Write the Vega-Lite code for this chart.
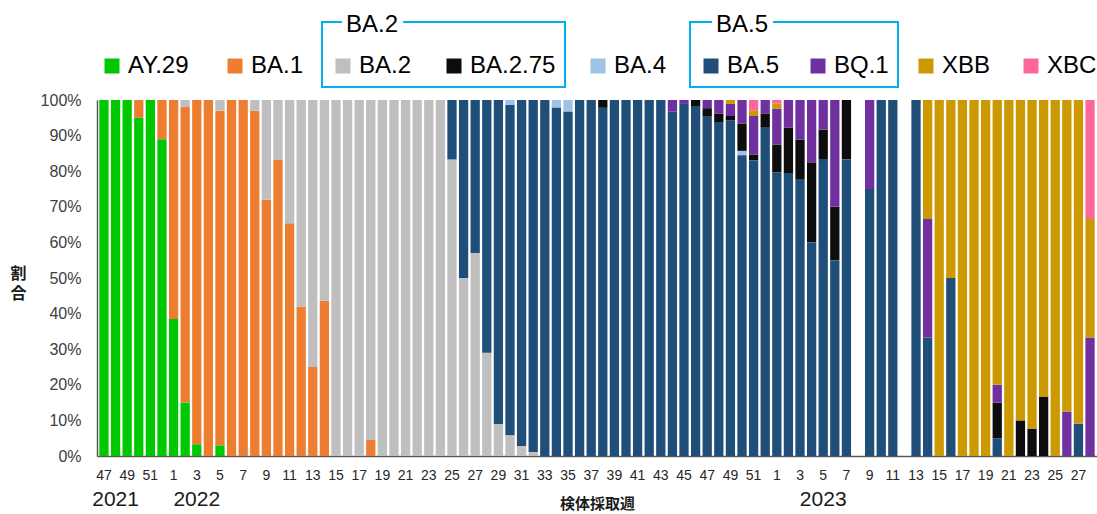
{
  "$schema": "https://vega.github.io/schema/vega-lite/v6.json",
  "width": 1000,
  "height": 356,
  "autosize": {"type": "none"},
  "padding": {"left": 97, "top": 100, "right": 0, "bottom": 58},
  "datasets": {
    "ranks": [
      {"v": "AY.29", "r": 1}, {"v": "BA.1", "r": 2}, {"v": "BA.2", "r": 3},
      {"v": "BA.5", "r": 4}, {"v": "BA.4", "r": 5}, {"v": "BA.2.75", "r": 6},
      {"v": "BQ.1", "r": 7}, {"v": "XBB", "r": 8}, {"v": "XBC", "r": 9}
    ],
    "share": [
      {"wk":"2021-47","v":"AY.29","p":100},
      {"wk":"2021-48","v":"AY.29","p":100},
      {"wk":"2021-49","v":"AY.29","p":100},
      {"wk":"2021-50","v":"AY.29","p":95},{"wk":"2021-50","v":"BA.1","p":5},
      {"wk":"2021-51","v":"AY.29","p":100},
      {"wk":"2021-52","v":"AY.29","p":89},{"wk":"2021-52","v":"BA.1","p":11},
      {"wk":"2022-01","v":"AY.29","p":38.5},{"wk":"2022-01","v":"BA.1","p":61.5},
      {"wk":"2022-02","v":"AY.29","p":15},{"wk":"2022-02","v":"BA.1","p":83},{"wk":"2022-02","v":"BA.2","p":2},
      {"wk":"2022-03","v":"AY.29","p":3.3},{"wk":"2022-03","v":"BA.1","p":96.7},
      {"wk":"2022-04","v":"BA.1","p":100},
      {"wk":"2022-05","v":"AY.29","p":3},{"wk":"2022-05","v":"BA.1","p":94},{"wk":"2022-05","v":"BA.2","p":3},
      {"wk":"2022-06","v":"BA.1","p":100},
      {"wk":"2022-07","v":"BA.1","p":100},
      {"wk":"2022-08","v":"BA.1","p":97},{"wk":"2022-08","v":"BA.2","p":3},
      {"wk":"2022-09","v":"BA.1","p":72},{"wk":"2022-09","v":"BA.2","p":28},
      {"wk":"2022-10","v":"BA.1","p":83.3},{"wk":"2022-10","v":"BA.2","p":16.7},
      {"wk":"2022-11","v":"BA.1","p":65.4},{"wk":"2022-11","v":"BA.2","p":34.6},
      {"wk":"2022-12","v":"BA.1","p":42},{"wk":"2022-12","v":"BA.2","p":58},
      {"wk":"2022-13","v":"BA.1","p":25},{"wk":"2022-13","v":"BA.2","p":75},
      {"wk":"2022-14","v":"BA.1","p":43.6},{"wk":"2022-14","v":"BA.2","p":56.4},
      {"wk":"2022-15","v":"BA.2","p":100},
      {"wk":"2022-16","v":"BA.2","p":100},
      {"wk":"2022-17","v":"BA.2","p":100},
      {"wk":"2022-18","v":"BA.1","p":4.5},{"wk":"2022-18","v":"BA.2","p":95.5},
      {"wk":"2022-19","v":"BA.2","p":100},
      {"wk":"2022-20","v":"BA.2","p":100},
      {"wk":"2022-21","v":"BA.2","p":100},
      {"wk":"2022-22","v":"BA.2","p":100},
      {"wk":"2022-23","v":"BA.2","p":100},
      {"wk":"2022-24","v":"BA.2","p":100},
      {"wk":"2022-25","v":"BA.2","p":83.3},{"wk":"2022-25","v":"BA.5","p":16.7},
      {"wk":"2022-26","v":"BA.2","p":50},{"wk":"2022-26","v":"BA.5","p":50},
      {"wk":"2022-27","v":"BA.2","p":57},{"wk":"2022-27","v":"BA.5","p":43},
      {"wk":"2022-28","v":"BA.2","p":29},{"wk":"2022-28","v":"BA.5","p":71},
      {"wk":"2022-29","v":"BA.2","p":9},{"wk":"2022-29","v":"BA.5","p":91},
      {"wk":"2022-30","v":"BA.2","p":5.8},{"wk":"2022-30","v":"BA.5","p":92.8},{"wk":"2022-30","v":"BA.4","p":1.4},
      {"wk":"2022-31","v":"BA.2","p":2.8},{"wk":"2022-31","v":"BA.5","p":97.2},
      {"wk":"2022-32","v":"BA.2","p":1.1},{"wk":"2022-32","v":"BA.5","p":98.9},
      {"wk":"2022-33","v":"BA.5","p":100},
      {"wk":"2022-34","v":"BA.5","p":97.8},{"wk":"2022-34","v":"BA.4","p":2.2},
      {"wk":"2022-35","v":"BA.5","p":96.7},{"wk":"2022-35","v":"BA.4","p":3.3},
      {"wk":"2022-36","v":"BA.5","p":100},
      {"wk":"2022-37","v":"BA.5","p":100},
      {"wk":"2022-38","v":"BA.5","p":97.8},{"wk":"2022-38","v":"BA.2.75","p":2.2},
      {"wk":"2022-39","v":"BA.5","p":100},
      {"wk":"2022-40","v":"BA.5","p":100},
      {"wk":"2022-41","v":"BA.5","p":100},
      {"wk":"2022-42","v":"BA.5","p":100},
      {"wk":"2022-43","v":"BA.5","p":100},
      {"wk":"2022-44","v":"BA.5","p":96.7},{"wk":"2022-44","v":"BQ.1","p":3.3},
      {"wk":"2022-45","v":"BA.5","p":98.9},{"wk":"2022-45","v":"BQ.1","p":1.1},
      {"wk":"2022-46","v":"BA.5","p":98.1},{"wk":"2022-46","v":"BA.2.75","p":1.9},
      {"wk":"2022-47","v":"BA.5","p":95.3},{"wk":"2022-47","v":"BA.2.75","p":2.4},{"wk":"2022-47","v":"BQ.1","p":2.3},
      {"wk":"2022-48","v":"BA.5","p":93.8},{"wk":"2022-48","v":"BA.2.75","p":2.4},{"wk":"2022-48","v":"BQ.1","p":3.8},
      {"wk":"2022-49","v":"BA.5","p":94.2},{"wk":"2022-49","v":"BA.2.75","p":1.3},{"wk":"2022-49","v":"BQ.1","p":3.4},{"wk":"2022-49","v":"XBB","p":1.1},
      {"wk":"2022-50","v":"BA.5","p":84.5},{"wk":"2022-50","v":"BA.4","p":1.2},{"wk":"2022-50","v":"BA.2.75","p":7.7},{"wk":"2022-50","v":"BQ.1","p":6.6},
      {"wk":"2022-51","v":"BA.5","p":83.1},{"wk":"2022-51","v":"BA.2.75","p":1.6},{"wk":"2022-51","v":"BQ.1","p":10.8},{"wk":"2022-51","v":"XBB","p":1.5},{"wk":"2022-51","v":"XBC","p":3},
      {"wk":"2022-52","v":"BA.5","p":92.2},{"wk":"2022-52","v":"BA.2.75","p":3.9},{"wk":"2022-52","v":"BQ.1","p":3.9},
      {"wk":"2023-01","v":"BA.5","p":79.7},{"wk":"2023-01","v":"BA.2.75","p":7.8},{"wk":"2023-01","v":"BQ.1","p":10.1},{"wk":"2023-01","v":"XBB","p":1.4},{"wk":"2023-01","v":"XBC","p":1},
      {"wk":"2023-02","v":"BA.5","p":79.5},{"wk":"2023-02","v":"BA.2.75","p":12.7},{"wk":"2023-02","v":"BQ.1","p":7.8},
      {"wk":"2023-03","v":"BA.5","p":77.8},{"wk":"2023-03","v":"BA.2.75","p":11.1},{"wk":"2023-03","v":"BQ.1","p":11.1},
      {"wk":"2023-04","v":"BA.5","p":60},{"wk":"2023-04","v":"BA.2.75","p":22.5},{"wk":"2023-04","v":"BQ.1","p":17.5},
      {"wk":"2023-05","v":"BA.5","p":83.4},{"wk":"2023-05","v":"BA.2.75","p":8.3},{"wk":"2023-05","v":"BQ.1","p":8.3},
      {"wk":"2023-06","v":"BA.5","p":55},{"wk":"2023-06","v":"BA.2.75","p":15},{"wk":"2023-06","v":"BQ.1","p":30},
      {"wk":"2023-07","v":"BA.5","p":83.3},{"wk":"2023-07","v":"BA.2.75","p":16.7},
      {"wk":"2023-09","v":"BA.5","p":75},{"wk":"2023-09","v":"BQ.1","p":25},
      {"wk":"2023-10","v":"BA.5","p":100},
      {"wk":"2023-11","v":"BA.5","p":100},
      {"wk":"2023-13","v":"BA.5","p":100},
      {"wk":"2023-14","v":"BA.5","p":33.3},{"wk":"2023-14","v":"BQ.1","p":33.3},{"wk":"2023-14","v":"XBB","p":33.4},
      {"wk":"2023-15","v":"XBB","p":100},
      {"wk":"2023-16","v":"BA.5","p":50},{"wk":"2023-16","v":"XBB","p":50},
      {"wk":"2023-17","v":"XBB","p":100},
      {"wk":"2023-18","v":"XBB","p":100},
      {"wk":"2023-19","v":"XBB","p":100},
      {"wk":"2023-20","v":"BA.5","p":5},{"wk":"2023-20","v":"BA.2.75","p":10},{"wk":"2023-20","v":"BQ.1","p":5},{"wk":"2023-20","v":"XBB","p":80},
      {"wk":"2023-21","v":"XBB","p":100},
      {"wk":"2023-22","v":"BA.2.75","p":10},{"wk":"2023-22","v":"XBB","p":90},
      {"wk":"2023-23","v":"BA.2.75","p":7.7},{"wk":"2023-23","v":"XBB","p":92.3},
      {"wk":"2023-24","v":"BA.2.75","p":16.7},{"wk":"2023-24","v":"XBB","p":83.3},
      {"wk":"2023-25","v":"XBB","p":100},
      {"wk":"2023-26","v":"BQ.1","p":12.5},{"wk":"2023-26","v":"XBB","p":87.5},
      {"wk":"2023-27","v":"BA.5","p":9.1},{"wk":"2023-27","v":"XBB","p":90.9},
      {"wk":"2023-28","v":"BQ.1","p":33.3},{"wk":"2023-28","v":"XBB","p":33.3},{"wk":"2023-28","v":"XBC","p":33.4}
    ]
  },
  "layer": [
    {
      "data": {"name": "share"},
      "transform": [
        {"lookup": "v", "from": {"data": {"name": "ranks"}, "key": "v", "fields": ["r"]}},
        {"stack": "p", "groupby": ["wk"], "sort": [{"field": "r", "order": "ascending"}], "as": ["y0", "y1"], "offset": "normalize"}
      ],
      "encoding": {
        "x": {
          "field": "wk", "type": "ordinal",
          "scale": {
            "type": "band", "paddingInner": 0.2, "paddingOuter": 0.2,
            "domain": ["2021-47","2021-48","2021-49","2021-50","2021-51","2021-52",
              "2022-01","2022-02","2022-03","2022-04","2022-05","2022-06","2022-07","2022-08","2022-09","2022-10",
              "2022-11","2022-12","2022-13","2022-14","2022-15","2022-16","2022-17","2022-18","2022-19","2022-20",
              "2022-21","2022-22","2022-23","2022-24","2022-25","2022-26","2022-27","2022-28","2022-29","2022-30",
              "2022-31","2022-32","2022-33","2022-34","2022-35","2022-36","2022-37","2022-38","2022-39","2022-40",
              "2022-41","2022-42","2022-43","2022-44","2022-45","2022-46","2022-47","2022-48","2022-49","2022-50",
              "2022-51","2022-52",
              "2023-01","2023-02","2023-03","2023-04","2023-05","2023-06","2023-07","2023-08","2023-09","2023-10",
              "2023-11","2023-12","2023-13","2023-14","2023-15","2023-16","2023-17","2023-18","2023-19","2023-20",
              "2023-21","2023-22","2023-23","2023-24","2023-25","2023-26","2023-27","2023-28"]
          },
          "axis": {
            "orient": "bottom",
            "title": "検体採取週",
            "titleFont": "Noto Sans CJK JP", "titleFontSize": 15, "titleFontWeight": "bold", "titleColor": "#1a1a1a",
            "titlePadding": 14,
            "labelExpr": "toNumber(split(datum.value, '-')[1]) % 2 == 1 ? '' + toNumber(split(datum.value, '-')[1]) : ''",
            "labelAngle": 0, "labelOverlap": false, "labelFontSize": 14, "labelColor": "#262626",
            "labelPadding": 12, "ticks": false, "domainColor": "#595959", "domainWidth": 1.5
          }
        },
        "y": {
          "field": "y0", "type": "quantitative",
          "scale": {"domain": [0, 1]},
          "axis": {
            "values": [0, 0.1, 0.2, 0.3, 0.4, 0.5, 0.6, 0.7, 0.8, 0.9, 1],
            "format": ".0%", "grid": false, "ticks": false,
            "labelFontSize": 16, "labelColor": "#404040", "labelPadding": 16,
            "domainColor": "#595959", "domainWidth": 1.5,
            "title": ["割", "合"], "titleAngle": 0, "titleX": -79, "titleY": 173,
            "titleAlign": "center", "titleBaseline": "middle", "titleLineHeight": 20,
            "titleFont": "Noto Sans CJK JP", "titleFontSize": 16, "titleFontWeight": "bold", "titleColor": "#1a1a1a"
          }
        },
        "y2": {"field": "y1"}
      },
      "layer": [
        {
          "transform": [{"filter": {"field": "v", "oneOf": ["AY.29", "BA.1"]}}],
          "mark": {"type": "bar"},
          "encoding": {"color": {"field": "v", "type": "nominal",
            "scale": {"domain": ["AY.29", "BA.1"], "range": ["#00C800", "#ED7D31"]},
            "legend": {"title": null, "orient": "none", "legendX": 3, "legendY": -46, "direction": "horizontal", "padding": 0,
              "columnPadding": 34}}}
        },
        {
          "transform": [{"filter": {"field": "v", "oneOf": ["BA.2", "BA.2.75"]}}],
          "mark": {"type": "bar"},
          "encoding": {"color": {"field": "v", "type": "nominal",
            "scale": {"domain": ["BA.2", "BA.2.75"], "range": ["#BFBFBF", "#0D0D0D"]},
            "legend": {"title": "BA.2", "titleOpacity": 0, "titleFontSize": 20, "titlePadding": 3,
              "orient": "none", "legendX": 225, "legendY": -78, "direction": "horizontal", "padding": 9,
              "strokeColor": "#00B0F0",
              "encode": {"legend": {"update": {"strokeWidth": {"value": 2}}}}}}}
        },
        {
          "transform": [{"filter": {"field": "v", "oneOf": ["BA.4"]}}],
          "mark": {"type": "bar"},
          "encoding": {"color": {"field": "v", "type": "nominal",
            "scale": {"domain": ["BA.4"], "range": ["#9DC3E6"]},
            "legend": {"title": null, "orient": "none", "legendX": 489, "legendY": -46, "direction": "horizontal", "padding": 0}}}
        },
        {
          "transform": [{"filter": {"field": "v", "oneOf": ["BA.5", "BQ.1"]}}],
          "mark": {"type": "bar"},
          "encoding": {"color": {"field": "v", "type": "nominal",
            "scale": {"domain": ["BA.5", "BQ.1"], "range": ["#1F4E79", "#7030A0"]},
            "legend": {"title": "BA.5", "titleOpacity": 0, "titleFontSize": 20, "titlePadding": 3,
              "orient": "none", "legendX": 593, "legendY": -78, "direction": "horizontal", "padding": 9,
              "columnPadding": 26,
              "strokeColor": "#00B0F0",
              "encode": {"legend": {"update": {"strokeWidth": {"value": 2}}}}}}}
        },
        {
          "transform": [{"filter": {"field": "v", "oneOf": ["XBB", "XBC"]}}],
          "mark": {"type": "bar"},
          "encoding": {"color": {"field": "v", "type": "nominal",
            "scale": {"domain": ["XBB", "XBC"], "range": ["#CC9900", "#FF6699"]},
            "legend": {"title": null, "orient": "none", "legendX": 817, "legendY": -46, "direction": "horizontal", "padding": 0,
              "columnPadding": 28}}}
        },
        {
          "transform": [{"filter": {"field": "v", "equal": "BA.2"}}],
          "mark": {"type": "bar", "opacity": 0},
          "encoding": {"color": {"field": "v", "type": "nominal",
            "scale": {"domain": ["BA.2"], "range": ["#FFFFFF"]},
            "legend": {"title": "BA.2", "titleFontSize": 24, "titlePadding": 0, "orient": "none",
              "legendX": 245, "legendY": -91, "padding": 4, "fillColor": "#FFFFFF",
              "symbolSize": 0, "symbolOpacity": 0, "labelFontSize": 1, "labelOpacity": 0, "labelOffset": 0,
              "labelExpr": "''"}}}
        },
        {
          "transform": [{"filter": {"field": "v", "equal": "BA.5"}}],
          "mark": {"type": "bar", "opacity": 0},
          "encoding": {"color": {"field": "v", "type": "nominal",
            "scale": {"domain": ["BA.5"], "range": ["#FFFFFF"]},
            "legend": {"title": "BA.5", "titleFontSize": 24, "titlePadding": 0, "orient": "none",
              "legendX": 615, "legendY": -91, "padding": 4, "fillColor": "#FFFFFF",
              "symbolSize": 0, "symbolOpacity": 0, "labelFontSize": 1, "labelOpacity": 0, "labelOffset": 0,
              "labelExpr": "''"}}}
        }
      ],
      "resolve": {"scale": {"color": "independent"}}
    },
    {
      "data": {"values": [{"wk": "2021-48"}, {"wk": "2022-03"}, {"wk": "2023-05"}]},
      "mark": {"type": "point", "opacity": 0},
      "encoding": {
        "x": {
          "field": "wk", "type": "ordinal",
          "scale": {
            "type": "band", "paddingInner": 0.2, "paddingOuter": 0.2,
            "domain": ["2021-47","2021-48","2021-49","2021-50","2021-51","2021-52",
              "2022-01","2022-02","2022-03","2022-04","2022-05","2022-06","2022-07","2022-08","2022-09","2022-10",
              "2022-11","2022-12","2022-13","2022-14","2022-15","2022-16","2022-17","2022-18","2022-19","2022-20",
              "2022-21","2022-22","2022-23","2022-24","2022-25","2022-26","2022-27","2022-28","2022-29","2022-30",
              "2022-31","2022-32","2022-33","2022-34","2022-35","2022-36","2022-37","2022-38","2022-39","2022-40",
              "2022-41","2022-42","2022-43","2022-44","2022-45","2022-46","2022-47","2022-48","2022-49","2022-50",
              "2022-51","2022-52",
              "2023-01","2023-02","2023-03","2023-04","2023-05","2023-06","2023-07","2023-08","2023-09","2023-10",
              "2023-11","2023-12","2023-13","2023-14","2023-15","2023-16","2023-17","2023-18","2023-19","2023-20",
              "2023-21","2023-22","2023-23","2023-24","2023-25","2023-26","2023-27","2023-28"]
          },
          "axis": {
            "orient": "bottom",
            "title": null, "domain": false, "ticks": false, "labelAngle": 0, "labelOverlap": false,
            "labelExpr": "datum.value == '2021-48' ? '2021' : datum.value == '2022-03' ? '2022' : datum.value == '2023-05' ? '2023' : ''",
            "labelFontSize": 21, "labelColor": "#1a1a1a", "labelPadding": 32
          }
        }
      }
    }
  ],
  "resolve": {"scale": {"x": "independent"}},
  "config": {
    "view": {"stroke": null},
    "font": "Liberation Sans",
    "axis": {"grid": false, "labelFont": "Liberation Sans"},
    "legend": {
      "labelFont": "Liberation Sans", "labelFontSize": 24, "labelColor": "#000000", "labelOffset": 4,
      "symbolType": "square", "symbolSize": 225, "symbolStrokeWidth": 0, "columnPadding": 30,
      "titleFont": "Liberation Sans", "titleFontWeight": "normal", "titleColor": "#000000"
    }
  }
}
